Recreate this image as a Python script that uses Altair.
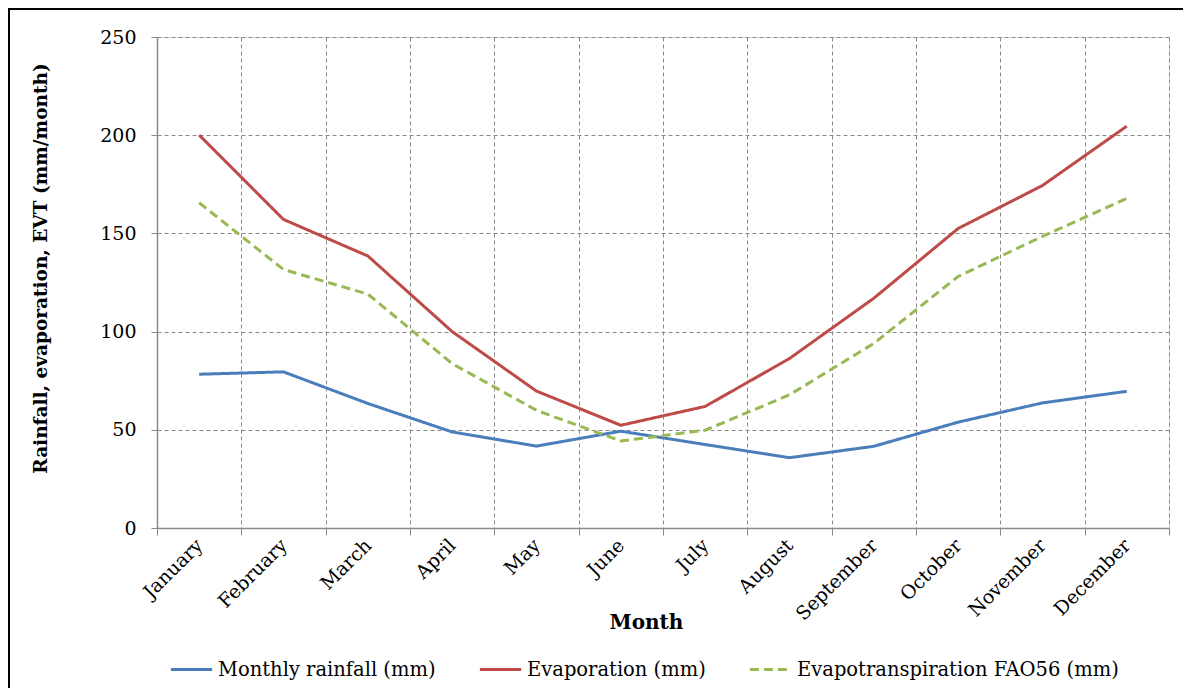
import altair as alt
import pandas as pd

months = ["January", "February", "March", "April", "May", "June", "July",
          "August", "September", "October", "November", "December"]
series_names = ["Monthly rainfall (mm)", "Evaporation (mm)", "Evapotranspiration FAO56 (mm)"]
rainfall = [78.3, 79.5, 63.4, 48.9, 41.7, 49.3, 42.5, 35.8, 41.6, 53.9, 63.7, 69.6]
evaporation = [200.1, 157.1, 138.5, 100.0, 69.7, 52.3, 61.9, 86.3, 117.0, 152.5, 174.4, 204.6]
evapotranspiration = [165.6, 131.6, 119.1, 83.7, 59.9, 44.3, 49.8, 67.8, 94.0, 128.1, 148.5, 167.8]
colors = ["#4A7EBB", "#BE4B48", "#98B954"]
dashes = [[1, 0], [1, 0], [9, 5]]
y_ticks = [0, 50, 100, 150, 200, 250]

rows = []
for name, vals in zip(series_names, [rainfall, evaporation, evapotranspiration]):
    for m, v in zip(months, vals):
        rows.append({"Month": m, "Series": name, "Value": v})
df = pd.DataFrame(rows)

W, H = 1012, 491
FONT = "DejaVu Serif"
GRAY = "#8a8a8a"

lines = alt.Chart(df).mark_line(strokeWidth=3).encode(
    x=alt.X("Month:N", sort=months, bandPosition=0.5,
            scale=alt.Scale(type="band", paddingInner=0, paddingOuter=0),
            axis=alt.Axis(title="Month", labelAngle=-45, labelAlign="right",
                          labelBaseline="middle", tickBand="extent", grid=True,
                          gridDash=[4, 3], gridColor=GRAY, gridWidth=1,
                          domainColor=GRAY, domainWidth=1.5, tickColor=GRAY,
                          tickSize=7, labelPadding=7, labelFont=FONT, labelFontSize=19,
                          labelColor="black", titleFont=FONT, titleFontSize=20,
                          titleFontWeight="bold", titleColor="black",
                          titleX=489, titleY=94, titleBaseline="middle")),
    y=alt.Y("Value:Q", scale=alt.Scale(domain=[0, 250], nice=False),
            axis=alt.Axis(title="Rainfall, evaporation, EVT (mm/month)", values=y_ticks,
                          grid=True, gridDash=[4, 3], gridColor=GRAY, gridWidth=1,
                          domainColor=GRAY, domainWidth=1.5, tickColor=GRAY,
                          tickSize=6, labelPadding=15, labelFont=FONT, labelFontSize=19,
                          labelColor="black", titleFont=FONT, titleFontSize=18.5,
                          titleFontWeight="bold", titleColor="black",
                          titleX=-117, titleY=231, titleAngle=-90,
                          titleAlign="center", titleBaseline="middle")),
    color=alt.Color("Series:N", scale=alt.Scale(domain=series_names, range=colors),
                    legend=alt.Legend(title=None, orient="none", direction="horizontal",
                                      legendX=12, legendY=610, symbolType="stroke",
                                      symbolSize=1700, symbolStrokeWidth=3,
                                      labelFont=FONT, labelFontSize=19.5, labelColor="black",
                                      labelOffset=4, columnPadding=37, labelLimit=500)),
    strokeDash=alt.StrokeDash("Series:N", scale=alt.Scale(domain=series_names, range=dashes),
                              legend=None),
)

frame_data = alt.Data(values=[{"a": 1}])
frame_top = alt.Chart(frame_data).mark_rule(color="black", strokeWidth=2).encode(
    x=alt.value(-149), x2=alt.value(1100), y=alt.value(-28))
frame_left = alt.Chart(frame_data).mark_rule(color="black", strokeWidth=2).encode(
    x=alt.value(-148), y=alt.value(-29), y2=alt.value(700))

chart = alt.layer(lines, frame_top, frame_left).properties(
    width=W, height=H,
    autosize=alt.AutoSizeParams(type="none"),
    padding={"left": 149, "top": 29, "right": 14, "bottom": 160},
).configure_view(stroke=GRAY, strokeWidth=1.5).configure(background="white")

chart.save("out.html", embed_options={"renderer": "svg", "actions": False})
